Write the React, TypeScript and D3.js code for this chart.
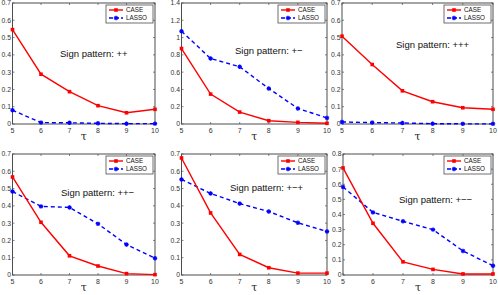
import React from 'react';
import * as d3 from 'd3';

const taus = [5, 6, 7, 8, 9, 10];

const case1 = [0.546, 0.288, 0.187, 0.106, 0.065, 0.085];
const lasso1 = [0.08, 0.008, 0.007, 0.004, 0.002, 0.002];
const case2 = [0.873, 0.346, 0.138, 0.038, 0.019, 0.008];
const lasso2 = [1.073, 0.758, 0.662, 0.41, 0.18, 0.07];
const case3 = [0.508, 0.344, 0.192, 0.129, 0.094, 0.085];
const lasso3 = [0.012, 0.008, 0.006, 0.002, 0.001, 0.001];
const case4 = [0.567, 0.305, 0.111, 0.052, 0.008, 0.002];
const lasso4 = [0.483, 0.397, 0.391, 0.296, 0.176, 0.097];
const case5 = [0.677, 0.359, 0.119, 0.042, 0.011, 0.011];
const lasso5 = [0.553, 0.472, 0.413, 0.367, 0.302, 0.252];
const case6 = [0.708, 0.342, 0.087, 0.037, 0.007, 0.007];
const lasso6 = [0.582, 0.414, 0.355, 0.3, 0.159, 0.061];

const patterns = ['++', '+\u2212', '+++', '++\u2212', '+\u2212+', '+\u2212\u2212'];
const yMaxes = [0.7, 1.4, 0.7, 0.7, 0.7, 0.8];
const yStep = [0.1, 0.2, 0.1, 0.1, 0.1, 0.1];
const caseSeries = [case1, case2, case3, case4, case5, case6];
const lassoSeries = [lasso1, lasso2, lasso3, lasso4, lasso5, lasso6];

// panel boxes [left, right, top, bottom] and label anchor
const boxes = [
  [12.5, 155, 3, 124],
  [181.5, 327, 3, 124],
  [342, 493, 3, 124],
  [12.5, 155, 154, 275],
  [181.5, 327, 154, 275],
  [343, 493, 154, 275],
];
const labelPos = [
  [60, 57],
  [235, 54],
  [396, 48],
  [61, 196],
  [230, 191],
  [399, 203],
];

const font = 'Liberation Sans, Arial, sans-serif';
const red = '#ff0000';
const blue = '#0000ff';
const axisCol = '#4d4d4d';

function Star({ x, y, s = 2.2 }: { x: number; y: number; s?: number }) {
  const d = s * 0.7;
  return (
    <g stroke={blue} strokeWidth={1.3}>
      <line x1={x - s} y1={y} x2={x + s} y2={y} />
      <line x1={x} y1={y - s} x2={x} y2={y + s} />
      <line x1={x - d} y1={y - d} x2={x + d} y2={y + d} />
      <line x1={x - d} y1={y + d} x2={x + d} y2={y - d} />
    </g>
  );
}

function Panel({ i }: { i: number }) {
  const [l, r, t, b] = boxes[i];
  const x = d3.scaleLinear().domain([5, 10]).range([l, r]);
  const y = d3.scaleLinear().domain([0, yMaxes[i]]).range([b, t]);
  const yTicks = d3.range(0, yMaxes[i] + 1e-9, yStep[i]);
  const line = d3.line<number>().x((_, k) => x(taus[k])).y((d) => y(d));
  const cs = caseSeries[i];
  const ls = lassoSeries[i];
  const fmt = (v: number) => (Math.abs(v) < 1e-9 ? '0' : d3.format('~g')(+v.toFixed(2)));
  const lgL = r - 49;
  const lgT = t + 2;
  return (
    <g>
      <rect x={l} y={t} width={r - l} height={b - t} fill="#fff" stroke={axisCol} strokeWidth={1} />
      {taus.map((v) => (
        <g key={'x' + v}>
          <line x1={x(v)} x2={x(v)} y1={b} y2={b - 2} stroke={axisCol} strokeWidth={0.7} />
          <line x1={x(v)} x2={x(v)} y1={t} y2={t + 2} stroke={axisCol} strokeWidth={0.7} />
          <text x={x(v)} y={b + 8.5} fontSize={7} textAnchor="middle" fill="#333" fontFamily={font}>
            {v}
          </text>
        </g>
      ))}
      {yTicks.map((v) => (
        <g key={'y' + v}>
          <line x1={l} x2={l + 2} y1={y(v)} y2={y(v)} stroke={axisCol} strokeWidth={0.7} />
          <line x1={r} x2={r - 2} y1={y(v)} y2={y(v)} stroke={axisCol} strokeWidth={0.7} />
          <text x={l - 1.5} y={y(v) + 2.4} fontSize={6.8} textAnchor="end" fill="#333" fontFamily={font}>
            {fmt(v)}
          </text>
        </g>
      ))}
      <text x={(l + r) / 2} y={b + 16} fontSize={11} textAnchor="middle" fill="#222" fontFamily="DejaVu Serif, serif">
        τ
      </text>
      <path d={line(ls) || ''} fill="none" stroke={blue} strokeWidth={1.4} strokeDasharray="4,3" />
      {ls.map((v, k) => (
        <Star key={'s' + k} x={x(taus[k])} y={y(v)} />
      ))}
      <path d={line(cs) || ''} fill="none" stroke={red} strokeWidth={1.4} />
      {cs.map((v, k) => (
        <rect key={'c' + k} x={x(taus[k]) - 1.8} y={y(v) - 1.8} width={3.6} height={3.6} fill={red} />
      ))}
      <text x={labelPos[i][0]} y={labelPos[i][1]} fontSize={9.5} fill="#111" fontFamily={font}>
        Sign pattern: {patterns[i]}
      </text>
      <rect x={lgL} y={lgT} width={47} height={18} fill="#fff" stroke={axisCol} strokeWidth={0.8} />
      <line x1={lgL + 3} x2={lgL + 17} y1={lgT + 5} y2={lgT + 5} stroke={red} strokeWidth={1.4} />
      <rect x={lgL + 8.2} y={lgT + 3.2} width={3.6} height={3.6} fill={red} />
      <text x={lgL + 20} y={lgT + 7.3} fontSize={6.3} fill="#111" fontFamily={font}>
        CASE
      </text>
      <line x1={lgL + 3} x2={lgL + 17} y1={lgT + 13} y2={lgT + 13} stroke={blue} strokeWidth={1.4} strokeDasharray="4,2" />
      <Star x={lgL + 10} y={lgT + 13} />
      <text x={lgL + 20} y={lgT + 15.3} fontSize={6.3} fill="#111" fontFamily={font}>
        LASSO
      </text>
    </g>
  );
}

export default function App() {
  return (
    <svg
      width={498}
      height={295}
      style={{ position: 'absolute', left: 0, top: 0, background: '#fff' }}
    >
      {patterns.map((_, i) => (
        <Panel key={i} i={i} />
      ))}
    </svg>
  );
}
